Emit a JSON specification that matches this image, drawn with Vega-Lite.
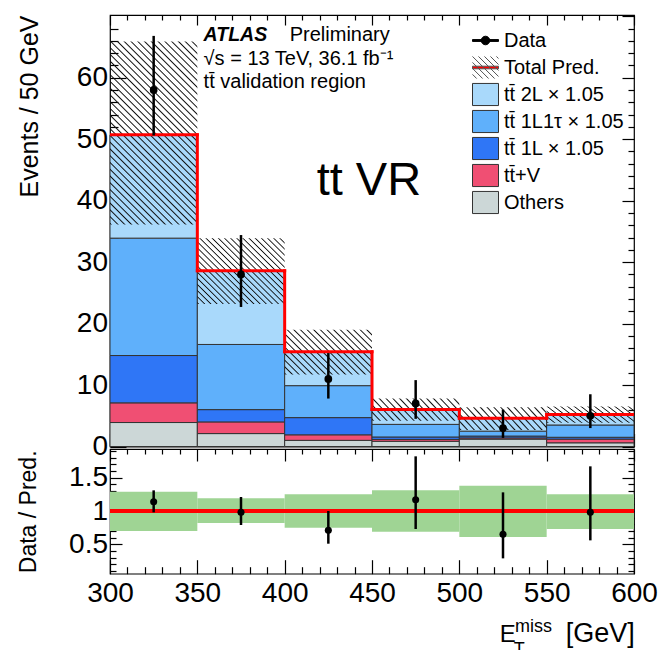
{
  "$schema": "https://vega.github.io/schema/vega-lite/v6.json",
  "background": "white",
  "padding": {"left": 16, "top": 13, "right": 5, "bottom": 0},
  "spacing": 2,
  "bounds": "flush",
  "config": {
    "font": "Liberation Sans",
    "view": {"stroke": "#000", "strokeWidth": 1.2},
    "axis": {"domain": false, "grid": false, "tickColor": "#000", "tickWidth": 1.2, "labelFont": "Liberation Sans", "labelFontSize": 28, "labelColor": "#000", "labelFlush": false, "labelOverlap": false, "titleFont": "Liberation Sans", "titleFontWeight": "normal", "titleColor": "#000"}
  },
  "datasets": {
    "bins": [
      {"lo": 300, "hi": 350, "x": 325, "total": 50.7, "ulo": 36.1, "uhi": 65.9, "n": 58, "nlo": 50.6, "nhi": 66.8, "r": 1.14, "rlo": 0.98, "rhi": 1.31, "blo": 0.70, "bhi": 1.29},
      {"lo": 350, "hi": 400, "x": 375, "total": 28.6, "ulo": 23.2, "uhi": 33.9, "n": 28, "nlo": 22.7, "nhi": 34.4, "r": 0.98, "rlo": 0.79, "rhi": 1.21, "blo": 0.82, "bhi": 1.19},
      {"lo": 400, "hi": 450, "x": 425, "total": 15.4, "ulo": 11.7, "uhi": 19.0, "n": 11, "nlo": 7.8, "nhi": 15.2, "r": 0.71, "rlo": 0.51, "rhi": 1.0, "blo": 0.75, "bhi": 1.25},
      {"lo": 450, "hi": 500, "x": 475, "total": 6.0, "ulo": 4.2, "uhi": 7.8, "n": 7, "nlo": 4.5, "nhi": 10.8, "r": 1.17, "rlo": 0.73, "rhi": 1.82, "blo": 0.69, "bhi": 1.31},
      {"lo": 500, "hi": 550, "x": 525, "total": 4.6, "ulo": 2.7, "uhi": 6.4, "n": 3, "nlo": 1.4, "nhi": 6.0, "r": 0.65, "rlo": 0.29, "rhi": 1.28, "blo": 0.61, "bhi": 1.38},
      {"lo": 550, "hi": 600, "x": 575, "total": 5.2, "ulo": 3.85, "uhi": 6.5, "n": 5, "nlo": 3.0, "nhi": 8.5, "r": 0.98, "rlo": 0.56, "rhi": 1.67, "blo": 0.73, "bhi": 1.25}
    ],
    "stack": [
      {"lo": 300, "hi": 350, "proc": "Others", "ord": 1, "v": 3.9},
      {"lo": 300, "hi": 350, "proc": "tt\u0304+V", "ord": 2, "v": 3.2},
      {"lo": 300, "hi": 350, "proc": "tt\u0304 1L × 1.05", "ord": 3, "v": 7.7},
      {"lo": 300, "hi": 350, "proc": "tt\u0304 1L1τ × 1.05", "ord": 4, "v": 19.1},
      {"lo": 300, "hi": 350, "proc": "tt\u0304 2L × 1.05", "ord": 5, "v": 16.8},
      {"lo": 350, "hi": 400, "proc": "Others", "ord": 1, "v": 2.1},
      {"lo": 350, "hi": 400, "proc": "tt\u0304+V", "ord": 2, "v": 1.9},
      {"lo": 350, "hi": 400, "proc": "tt\u0304 1L × 1.05", "ord": 3, "v": 2.0},
      {"lo": 350, "hi": 400, "proc": "tt\u0304 1L1τ × 1.05", "ord": 4, "v": 10.6},
      {"lo": 350, "hi": 400, "proc": "tt\u0304 2L × 1.05", "ord": 5, "v": 12.0},
      {"lo": 400, "hi": 450, "proc": "Others", "ord": 1, "v": 1.0},
      {"lo": 400, "hi": 450, "proc": "tt\u0304+V", "ord": 2, "v": 0.9},
      {"lo": 400, "hi": 450, "proc": "tt\u0304 1L × 1.05", "ord": 3, "v": 2.8},
      {"lo": 400, "hi": 450, "proc": "tt\u0304 1L1τ × 1.05", "ord": 4, "v": 5.2},
      {"lo": 400, "hi": 450, "proc": "tt\u0304 2L × 1.05", "ord": 5, "v": 5.5},
      {"lo": 450, "hi": 500, "proc": "Others", "ord": 1, "v": 0.85},
      {"lo": 450, "hi": 500, "proc": "tt\u0304+V", "ord": 2, "v": 0.3},
      {"lo": 450, "hi": 500, "proc": "tt\u0304 1L × 1.05", "ord": 3, "v": 0.4},
      {"lo": 450, "hi": 500, "proc": "tt\u0304 1L1τ × 1.05", "ord": 4, "v": 2.05},
      {"lo": 450, "hi": 500, "proc": "tt\u0304 2L × 1.05", "ord": 5, "v": 2.4},
      {"lo": 500, "hi": 550, "proc": "Others", "ord": 1, "v": 1.2},
      {"lo": 500, "hi": 550, "proc": "tt\u0304+V", "ord": 2, "v": 0.2},
      {"lo": 500, "hi": 550, "proc": "tt\u0304 1L × 1.05", "ord": 3, "v": 0.3},
      {"lo": 500, "hi": 550, "proc": "tt\u0304 1L1τ × 1.05", "ord": 4, "v": 0.8},
      {"lo": 500, "hi": 550, "proc": "tt\u0304 2L × 1.05", "ord": 5, "v": 2.1},
      {"lo": 550, "hi": 600, "proc": "Others", "ord": 1, "v": 0.6},
      {"lo": 550, "hi": 600, "proc": "tt\u0304+V", "ord": 2, "v": 0.6},
      {"lo": 550, "hi": 600, "proc": "tt\u0304 1L × 1.05", "ord": 3, "v": 0.3},
      {"lo": 550, "hi": 600, "proc": "tt\u0304 1L1τ × 1.05", "ord": 4, "v": 2.0},
      {"lo": 550, "hi": 600, "proc": "tt\u0304 2L × 1.05", "ord": 5, "v": 1.7}
    ],
    "leg": [
      {"proc": "Data"},
      {"proc": "Total Pred."},
      {"proc": "tt\u0304 2L × 1.05"},
      {"proc": "tt\u0304 1L1τ × 1.05"},
      {"proc": "tt\u0304 1L × 1.05"},
      {"proc": "tt\u0304+V"},
      {"proc": "Others"}
    ]
  },
  "vconcat": [
    {
      "width": 524,
      "height": 431.5,
      "resolve": {"axis": {"x": "independent", "y": "independent"}},
      "layer": [
        {
          "data": {"name": "stack"},
          "transform": [{"stack": "v", "groupby": ["lo"], "sort": [{"field": "ord", "order": "ascending"}], "as": ["y0", "y1"]}],
          "mark": {"type": "rect", "stroke": "#333", "strokeWidth": 1},
          "encoding": {
            "x": {"field": "lo", "type": "quantitative", "scale": {"domain": [300, 600], "nice": false, "zero": false}, "axis": {"orient": "bottom", "values": [300, 350, 400, 450, 500, 550, 600], "tickSize": -13, "labels": false, "title": null}},
            "x2": {"field": "hi"},
            "y": {"field": "y0", "type": "quantitative", "scale": {"domain": [0, 70.2], "nice": false, "zero": false}, "axis": {"orient": "left", "values": [0, 10, 20, 30, 40, 50, 60], "tickSize": -16, "labelPadding": 18.5, "title": "Events / 50 GeV", "titleFontSize": 25, "titleAnchor": "end", "titleX": -81, "titleBaseline": "middle"}},
            "y2": {"field": "y1"},
            "fill": {"field": "proc", "type": "nominal", "scale": {"domain": ["Data", "Total Pred.", "tt\u0304 2L × 1.05", "tt\u0304 1L1τ × 1.05", "tt\u0304 1L × 1.05", "tt\u0304+V", "Others"], "range": ["#000000", "#ff0000", "#a9d9fb", "#5fb0fb", "#2f76f6", "#f04f73", "#ccd7d7"]}, "legend": {"title": null, "orient": "none", "legendX": 362, "legendY": 12, "padding": 0, "labelFont": "Liberation Sans", "labelFontSize": 20, "labelColor": "#000", "symbolSize": 676, "symbolStrokeWidth": 1, "rowPadding": -3.3, "labelOffset": 5, "symbolOpacity": 1}}
          }
        },
        {
          "data": {"name": "bins"},
          "mark": {"type": "rect"},
          "encoding": {
            "x": {"field": "lo", "type": "quantitative", "scale": {"domain": [300, 600], "nice": false, "zero": false}, "axis": {"orient": "bottom", "values": [310, 320, 330, 340, 360, 370, 380, 390, 410, 420, 430, 440, 460, 470, 480, 490, 510, 520, 530, 540, 560, 570, 580, 590], "tickSize": -6.5, "labels": false, "title": null}},
            "x2": {"field": "hi"},
            "y": {"field": "ulo", "type": "quantitative", "scale": {"domain": [0, 70.2], "nice": false, "zero": false}, "axis": {"orient": "left", "values": [2, 4, 6, 8, 12, 14, 16, 18, 22, 24, 26, 28, 32, 34, 36, 38, 42, 44, 46, 48, 52, 54, 56, 58, 62, 64, 66, 68], "tickSize": -8, "labels": false, "title": null}},
            "y2": {"field": "uhi"},
            "fill": {
              "condition": [
                {"test": "datum.lo == 300", "value": {"gradient": "linear", "x1": 0.2135, "y1": 1.102, "x2": 0.7865, "y2": -0.102, "stops": [
                  {"offset": 0, "color": "transparent"}, {"offset": 0.005, "color": "#111"}, {"offset": 0.01, "color": "transparent"},
                  {"offset": 0.025, "color": "transparent"}, {"offset": 0.03, "color": "#111"}, {"offset": 0.035, "color": "transparent"},
                  {"offset": 0.05, "color": "transparent"}, {"offset": 0.055, "color": "#111"}, {"offset": 0.06, "color": "transparent"},
                  {"offset": 0.075, "color": "transparent"}, {"offset": 0.08, "color": "#111"}, {"offset": 0.085, "color": "transparent"},
                  {"offset": 0.1, "color": "transparent"}, {"offset": 0.105, "color": "#111"}, {"offset": 0.11, "color": "transparent"},
                  {"offset": 0.125, "color": "transparent"}, {"offset": 0.13, "color": "#111"}, {"offset": 0.135, "color": "transparent"},
                  {"offset": 0.15, "color": "transparent"}, {"offset": 0.155, "color": "#111"}, {"offset": 0.16, "color": "transparent"},
                  {"offset": 0.175, "color": "transparent"}, {"offset": 0.18, "color": "#111"}, {"offset": 0.185, "color": "transparent"},
                  {"offset": 0.2, "color": "transparent"}, {"offset": 0.205, "color": "#111"}, {"offset": 0.21, "color": "transparent"},
                  {"offset": 0.225, "color": "transparent"}, {"offset": 0.23, "color": "#111"}, {"offset": 0.235, "color": "transparent"},
                  {"offset": 0.25, "color": "transparent"}, {"offset": 0.255, "color": "#111"}, {"offset": 0.26, "color": "transparent"},
                  {"offset": 0.275, "color": "transparent"}, {"offset": 0.28, "color": "#111"}, {"offset": 0.285, "color": "transparent"},
                  {"offset": 0.3, "color": "transparent"}, {"offset": 0.305, "color": "#111"}, {"offset": 0.31, "color": "transparent"},
                  {"offset": 0.325, "color": "transparent"}, {"offset": 0.33, "color": "#111"}, {"offset": 0.335, "color": "transparent"},
                  {"offset": 0.35, "color": "transparent"}, {"offset": 0.355, "color": "#111"}, {"offset": 0.36, "color": "transparent"},
                  {"offset": 0.375, "color": "transparent"}, {"offset": 0.38, "color": "#111"}, {"offset": 0.385, "color": "transparent"},
                  {"offset": 0.4, "color": "transparent"}, {"offset": 0.405, "color": "#111"}, {"offset": 0.41, "color": "transparent"},
                  {"offset": 0.425, "color": "transparent"}, {"offset": 0.43, "color": "#111"}, {"offset": 0.435, "color": "transparent"},
                  {"offset": 0.45, "color": "transparent"}, {"offset": 0.455, "color": "#111"}, {"offset": 0.46, "color": "transparent"},
                  {"offset": 0.475, "color": "transparent"}, {"offset": 0.48, "color": "#111"}, {"offset": 0.485, "color": "transparent"},
                  {"offset": 0.5, "color": "transparent"}, {"offset": 0.505, "color": "#111"}, {"offset": 0.51, "color": "transparent"},
                  {"offset": 0.525, "color": "transparent"}, {"offset": 0.53, "color": "#111"}, {"offset": 0.535, "color": "transparent"},
                  {"offset": 0.55, "color": "transparent"}, {"offset": 0.555, "color": "#111"}, {"offset": 0.56, "color": "transparent"},
                  {"offset": 0.575, "color": "transparent"}, {"offset": 0.58, "color": "#111"}, {"offset": 0.585, "color": "transparent"},
                  {"offset": 0.6, "color": "transparent"}, {"offset": 0.605, "color": "#111"}, {"offset": 0.61, "color": "transparent"},
                  {"offset": 0.625, "color": "transparent"}, {"offset": 0.63, "color": "#111"}, {"offset": 0.635, "color": "transparent"},
                  {"offset": 0.65, "color": "transparent"}, {"offset": 0.655, "color": "#111"}, {"offset": 0.66, "color": "transparent"},
                  {"offset": 0.675, "color": "transparent"}, {"offset": 0.68, "color": "#111"}, {"offset": 0.685, "color": "transparent"},
                  {"offset": 0.7, "color": "transparent"}, {"offset": 0.705, "color": "#111"}, {"offset": 0.71, "color": "transparent"},
                  {"offset": 0.725, "color": "transparent"}, {"offset": 0.73, "color": "#111"}, {"offset": 0.735, "color": "transparent"},
                  {"offset": 0.75, "color": "transparent"}, {"offset": 0.755, "color": "#111"}, {"offset": 0.76, "color": "transparent"},
                  {"offset": 0.775, "color": "transparent"}, {"offset": 0.78, "color": "#111"}, {"offset": 0.785, "color": "transparent"},
                  {"offset": 0.8, "color": "transparent"}, {"offset": 0.805, "color": "#111"}, {"offset": 0.81, "color": "transparent"},
                  {"offset": 0.825, "color": "transparent"}, {"offset": 0.83, "color": "#111"}, {"offset": 0.835, "color": "transparent"},
                  {"offset": 0.85, "color": "transparent"}, {"offset": 0.855, "color": "#111"}, {"offset": 0.86, "color": "transparent"},
                  {"offset": 0.875, "color": "transparent"}, {"offset": 0.88, "color": "#111"}, {"offset": 0.885, "color": "transparent"},
                  {"offset": 0.9, "color": "transparent"}, {"offset": 0.905, "color": "#111"}, {"offset": 0.91, "color": "transparent"},
                  {"offset": 0.925, "color": "transparent"}, {"offset": 0.93, "color": "#111"}, {"offset": 0.935, "color": "transparent"},
                  {"offset": 0.95, "color": "transparent"}, {"offset": 0.955, "color": "#111"}, {"offset": 0.96, "color": "transparent"},
                  {"offset": 0.975, "color": "transparent"}, {"offset": 0.98, "color": "#111"}, {"offset": 0.985, "color": "transparent"}
                ]}},
                {"test": "datum.lo == 350", "value": {"gradient": "linear", "x1": -0.058, "y1": 0.924, "x2": 1.058, "y2": 0.076, "stops": [
                  {"offset": 0, "color": "transparent"}, {"offset": 0.008, "color": "#111"}, {"offset": 0.016, "color": "transparent"},
                  {"offset": 0.04, "color": "transparent"}, {"offset": 0.048, "color": "#111"}, {"offset": 0.056, "color": "transparent"},
                  {"offset": 0.08, "color": "transparent"}, {"offset": 0.088, "color": "#111"}, {"offset": 0.096, "color": "transparent"},
                  {"offset": 0.12, "color": "transparent"}, {"offset": 0.128, "color": "#111"}, {"offset": 0.136, "color": "transparent"},
                  {"offset": 0.16, "color": "transparent"}, {"offset": 0.168, "color": "#111"}, {"offset": 0.176, "color": "transparent"},
                  {"offset": 0.2, "color": "transparent"}, {"offset": 0.208, "color": "#111"}, {"offset": 0.216, "color": "transparent"},
                  {"offset": 0.24, "color": "transparent"}, {"offset": 0.248, "color": "#111"}, {"offset": 0.256, "color": "transparent"},
                  {"offset": 0.28, "color": "transparent"}, {"offset": 0.288, "color": "#111"}, {"offset": 0.296, "color": "transparent"},
                  {"offset": 0.32, "color": "transparent"}, {"offset": 0.328, "color": "#111"}, {"offset": 0.336, "color": "transparent"},
                  {"offset": 0.36, "color": "transparent"}, {"offset": 0.368, "color": "#111"}, {"offset": 0.376, "color": "transparent"},
                  {"offset": 0.4, "color": "transparent"}, {"offset": 0.408, "color": "#111"}, {"offset": 0.416, "color": "transparent"},
                  {"offset": 0.44, "color": "transparent"}, {"offset": 0.448, "color": "#111"}, {"offset": 0.456, "color": "transparent"},
                  {"offset": 0.48, "color": "transparent"}, {"offset": 0.488, "color": "#111"}, {"offset": 0.496, "color": "transparent"},
                  {"offset": 0.52, "color": "transparent"}, {"offset": 0.528, "color": "#111"}, {"offset": 0.536, "color": "transparent"},
                  {"offset": 0.56, "color": "transparent"}, {"offset": 0.568, "color": "#111"}, {"offset": 0.576, "color": "transparent"},
                  {"offset": 0.6, "color": "transparent"}, {"offset": 0.608, "color": "#111"}, {"offset": 0.616, "color": "transparent"},
                  {"offset": 0.64, "color": "transparent"}, {"offset": 0.648, "color": "#111"}, {"offset": 0.656, "color": "transparent"},
                  {"offset": 0.68, "color": "transparent"}, {"offset": 0.688, "color": "#111"}, {"offset": 0.696, "color": "transparent"},
                  {"offset": 0.72, "color": "transparent"}, {"offset": 0.728, "color": "#111"}, {"offset": 0.736, "color": "transparent"},
                  {"offset": 0.76, "color": "transparent"}, {"offset": 0.768, "color": "#111"}, {"offset": 0.776, "color": "transparent"},
                  {"offset": 0.8, "color": "transparent"}, {"offset": 0.808, "color": "#111"}, {"offset": 0.816, "color": "transparent"},
                  {"offset": 0.84, "color": "transparent"}, {"offset": 0.848, "color": "#111"}, {"offset": 0.856, "color": "transparent"},
                  {"offset": 0.88, "color": "transparent"}, {"offset": 0.888, "color": "#111"}, {"offset": 0.896, "color": "transparent"},
                  {"offset": 0.92, "color": "transparent"}, {"offset": 0.928, "color": "#111"}, {"offset": 0.936, "color": "transparent"},
                  {"offset": 0.96, "color": "transparent"}, {"offset": 0.968, "color": "#111"}, {"offset": 0.976, "color": "transparent"}
                ]}},
                {"test": "datum.lo == 400", "value": {"gradient": "linear", "x1": -0.099, "y1": 0.81, "x2": 1.099, "y2": 0.19, "stops": [
                  {"offset": 0, "color": "transparent"}, {"offset": 0.01, "color": "#111"}, {"offset": 0.02, "color": "transparent"},
                  {"offset": 0.05, "color": "transparent"}, {"offset": 0.06, "color": "#111"}, {"offset": 0.07, "color": "transparent"},
                  {"offset": 0.1, "color": "transparent"}, {"offset": 0.11, "color": "#111"}, {"offset": 0.12, "color": "transparent"},
                  {"offset": 0.15, "color": "transparent"}, {"offset": 0.16, "color": "#111"}, {"offset": 0.17, "color": "transparent"},
                  {"offset": 0.2, "color": "transparent"}, {"offset": 0.21, "color": "#111"}, {"offset": 0.22, "color": "transparent"},
                  {"offset": 0.25, "color": "transparent"}, {"offset": 0.26, "color": "#111"}, {"offset": 0.27, "color": "transparent"},
                  {"offset": 0.3, "color": "transparent"}, {"offset": 0.31, "color": "#111"}, {"offset": 0.32, "color": "transparent"},
                  {"offset": 0.35, "color": "transparent"}, {"offset": 0.36, "color": "#111"}, {"offset": 0.37, "color": "transparent"},
                  {"offset": 0.4, "color": "transparent"}, {"offset": 0.41, "color": "#111"}, {"offset": 0.42, "color": "transparent"},
                  {"offset": 0.45, "color": "transparent"}, {"offset": 0.46, "color": "#111"}, {"offset": 0.47, "color": "transparent"},
                  {"offset": 0.5, "color": "transparent"}, {"offset": 0.51, "color": "#111"}, {"offset": 0.52, "color": "transparent"},
                  {"offset": 0.55, "color": "transparent"}, {"offset": 0.56, "color": "#111"}, {"offset": 0.57, "color": "transparent"},
                  {"offset": 0.6, "color": "transparent"}, {"offset": 0.61, "color": "#111"}, {"offset": 0.62, "color": "transparent"},
                  {"offset": 0.65, "color": "transparent"}, {"offset": 0.66, "color": "#111"}, {"offset": 0.67, "color": "transparent"},
                  {"offset": 0.7, "color": "transparent"}, {"offset": 0.71, "color": "#111"}, {"offset": 0.72, "color": "transparent"},
                  {"offset": 0.75, "color": "transparent"}, {"offset": 0.76, "color": "#111"}, {"offset": 0.77, "color": "transparent"},
                  {"offset": 0.8, "color": "transparent"}, {"offset": 0.81, "color": "#111"}, {"offset": 0.82, "color": "transparent"},
                  {"offset": 0.85, "color": "transparent"}, {"offset": 0.86, "color": "#111"}, {"offset": 0.87, "color": "transparent"},
                  {"offset": 0.9, "color": "transparent"}, {"offset": 0.91, "color": "#111"}, {"offset": 0.92, "color": "transparent"},
                  {"offset": 0.95, "color": "transparent"}, {"offset": 0.96, "color": "#111"}, {"offset": 0.97, "color": "transparent"}
                ]}}
              ],
              "value": {"gradient": "linear", "x1": -0.086, "y1": 0.641, "x2": 1.086, "y2": 0.359, "stops": [
                {"offset": 0, "color": "transparent"}, {"offset": 0.0125, "color": "#111"}, {"offset": 0.025, "color": "transparent"},
                {"offset": 0.0625, "color": "transparent"}, {"offset": 0.075, "color": "#111"}, {"offset": 0.0875, "color": "transparent"},
                {"offset": 0.125, "color": "transparent"}, {"offset": 0.1375, "color": "#111"}, {"offset": 0.15, "color": "transparent"},
                {"offset": 0.1875, "color": "transparent"}, {"offset": 0.2, "color": "#111"}, {"offset": 0.2125, "color": "transparent"},
                {"offset": 0.25, "color": "transparent"}, {"offset": 0.2625, "color": "#111"}, {"offset": 0.275, "color": "transparent"},
                {"offset": 0.3125, "color": "transparent"}, {"offset": 0.325, "color": "#111"}, {"offset": 0.3375, "color": "transparent"},
                {"offset": 0.375, "color": "transparent"}, {"offset": 0.3875, "color": "#111"}, {"offset": 0.4, "color": "transparent"},
                {"offset": 0.4375, "color": "transparent"}, {"offset": 0.45, "color": "#111"}, {"offset": 0.4625, "color": "transparent"},
                {"offset": 0.5, "color": "transparent"}, {"offset": 0.5125, "color": "#111"}, {"offset": 0.525, "color": "transparent"},
                {"offset": 0.5625, "color": "transparent"}, {"offset": 0.575, "color": "#111"}, {"offset": 0.5875, "color": "transparent"},
                {"offset": 0.625, "color": "transparent"}, {"offset": 0.6375, "color": "#111"}, {"offset": 0.65, "color": "transparent"},
                {"offset": 0.6875, "color": "transparent"}, {"offset": 0.7, "color": "#111"}, {"offset": 0.7125, "color": "transparent"},
                {"offset": 0.75, "color": "transparent"}, {"offset": 0.7625, "color": "#111"}, {"offset": 0.775, "color": "transparent"},
                {"offset": 0.8125, "color": "transparent"}, {"offset": 0.825, "color": "#111"}, {"offset": 0.8375, "color": "transparent"},
                {"offset": 0.875, "color": "transparent"}, {"offset": 0.8875, "color": "#111"}, {"offset": 0.9, "color": "transparent"},
                {"offset": 0.9375, "color": "transparent"}, {"offset": 0.95, "color": "#111"}, {"offset": 0.9625, "color": "transparent"}
              ]}
            }
          }
        },
        {
          "data": {"name": "bins"},
          "mark": {"type": "rule", "color": "#ff0000", "strokeWidth": 3, "strokeCap": "square", "clip": true},
          "encoding": {
            "x": {"field": "lo", "type": "quantitative", "scale": {"domain": [300, 600], "nice": false, "zero": false}, "axis": {"orient": "top", "values": [300, 350, 400, 450, 500, 550, 600], "tickSize": -10, "labels": false, "title": null}},
            "x2": {"field": "hi"},
            "y": {"field": "total", "type": "quantitative", "scale": {"domain": [0, 70.2], "nice": false, "zero": false}, "axis": {"orient": "right", "values": [0, 10, 20, 30, 40, 50, 60, 70], "tickSize": -12, "labels": false, "title": null}}
          }
        },
        {
          "data": {"name": "bins"},
          "transform": [
            {"window": [{"op": "lead", "field": "total", "as": "next"}], "sort": [{"field": "lo", "order": "ascending"}]},
            {"filter": "datum.next != null"}
          ],
          "mark": {"type": "rule", "color": "#ff0000", "strokeWidth": 3, "strokeCap": "square", "clip": true},
          "encoding": {
            "x": {"field": "hi", "type": "quantitative", "scale": {"domain": [300, 600], "nice": false, "zero": false}, "axis": {"orient": "top", "values": [310, 320, 330, 340, 360, 370, 380, 390, 410, 420, 430, 440, 460, 470, 480, 490, 510, 520, 530, 540, 560, 570, 580, 590], "tickSize": -5, "labels": false, "title": null}},
            "y": {"field": "total", "type": "quantitative", "scale": {"domain": [0, 70.2], "nice": false, "zero": false}, "axis": {"orient": "right", "values": [2, 4, 6, 8, 12, 14, 16, 18, 22, 24, 26, 28, 32, 34, 36, 38, 42, 44, 46, 48, 52, 54, 56, 58, 62, 64, 66, 68], "tickSize": -6, "labels": false, "title": null}},
            "y2": {"field": "next"}
          }
        },
        {
          "data": {"name": "bins"},
          "mark": {"type": "rule", "color": "#000", "strokeWidth": 2.5},
          "encoding": {
            "x": {"field": "x", "type": "quantitative", "scale": {"domain": [300, 600], "nice": false, "zero": false}, "axis": null},
            "y": {"field": "nlo", "type": "quantitative", "scale": {"domain": [0, 70.2], "nice": false, "zero": false}, "axis": null},
            "y2": {"field": "nhi"}
          }
        },
        {
          "data": {"name": "bins"},
          "mark": {"type": "point", "filled": true, "color": "#000", "size": 60, "opacity": 1},
          "encoding": {
            "x": {"field": "x", "type": "quantitative", "scale": {"domain": [300, 600], "nice": false, "zero": false}, "axis": null},
            "y": {"field": "n", "type": "quantitative", "scale": {"domain": [0, 70.2], "nice": false, "zero": false}, "axis": null}
          }
        },
        {
          "data": {"name": "leg"},
          "mark": {"type": "point", "filled": true, "opacity": 0},
          "encoding": {
            "fill": {"field": "proc", "type": "nominal", "scale": {"domain": ["Data", "Total Pred.", "tt\u0304 2L × 1.05", "tt\u0304 1L1τ × 1.05", "tt\u0304 1L × 1.05", "tt\u0304+V", "Others"], "range": ["#000000", "#ff0000", "#a9d9fb", "#5fb0fb", "#2f76f6", "#f04f73", "#ccd7d7"]}, "legend": {"title": null, "orient": "none", "legendX": 362, "legendY": 12, "padding": 0, "labelFont": "Liberation Sans", "labelFontSize": 20, "labelColor": "#000", "symbolSize": 676, "symbolStrokeWidth": 1, "rowPadding": -3.3, "labelOffset": 5, "symbolOpacity": 1}},
            "stroke": {"field": "proc", "type": "nominal", "scale": {"domain": ["Data", "Total Pred.", "tt\u0304 2L × 1.05", "tt\u0304 1L1τ × 1.05", "tt\u0304 1L × 1.05", "tt\u0304+V", "Others"], "range": ["#000000", "#555555", "#333333", "#333333", "#333333", "#333333", "#333333"]}, "legend": {"title": null, "orient": "none", "legendX": 362, "legendY": 12, "padding": 0, "labelFont": "Liberation Sans", "labelFontSize": 20, "labelColor": "#000", "symbolSize": 676, "symbolStrokeWidth": 1, "rowPadding": -3.3, "labelOffset": 5, "symbolOpacity": 1}},
            "shape": {"field": "proc", "type": "nominal", "scale": {"domain": ["Data", "Total Pred.", "tt\u0304 2L × 1.05", "tt\u0304 1L1τ × 1.05", "tt\u0304 1L × 1.05", "tt\u0304+V", "Others"], "range": ["M-1,-0.85L-1,-0.85M-1,0.85L-1,0.85M-1,-0.07H1V0.07H-1ZM0.33,0A0.33,0.33,0,1,1,-0.33,0A0.33,0.33,0,1,1,0.33,0Z", "M-1,0.53L-0.68,0.85M-1,0.07L-0.22,0.85M-1,-0.39L0.24,0.85M-1,-0.85L0.7,0.85M-0.54,-0.85L1,0.69M-0.08,-0.85L1,0.23M0.38,-0.85L1,-0.23M0.84,-0.85L1,-0.69M-1,-0.1H1V0.1H-1Z", "M-1,-0.85H1V0.85H-1Z", "M-1,-0.85H1V0.85H-1Z", "M-1,-0.85H1V0.85H-1Z", "M-1,-0.85H1V0.85H-1Z", "M-1,-0.85H1V0.85H-1Z"]}, "legend": {"title": null, "orient": "none", "legendX": 362, "legendY": 12, "padding": 0, "labelFont": "Liberation Sans", "labelFontSize": 20, "labelColor": "#000", "symbolSize": 676, "symbolStrokeWidth": 1, "rowPadding": -3.3, "labelOffset": 5, "symbolOpacity": 1}}
          }
        },
        {
          "data": {"values": [{}]},
          "mark": {"type": "text", "text": "ATLAS", "font": "Liberation Sans", "fontSize": 19.5, "fontWeight": "bold", "fontStyle": "italic", "align": "left", "baseline": "alphabetic", "color": "#000"},
          "encoding": {
            "x": {"datum": 353.6, "type": "quantitative", "scale": {"domain": [300, 600], "nice": false, "zero": false}, "axis": null},
            "y": {"datum": 65.9, "type": "quantitative", "scale": {"domain": [0, 70.2], "nice": false, "zero": false}, "axis": null}
          }
        },
        {
          "data": {"values": [{}]},
          "mark": {"type": "text", "text": "Preliminary", "font": "Liberation Sans", "fontSize": 20, "align": "left", "baseline": "alphabetic", "color": "#000"},
          "encoding": {
            "x": {"datum": 402.9, "type": "quantitative", "scale": {"domain": [300, 600], "nice": false, "zero": false}, "axis": null},
            "y": {"datum": 65.9, "type": "quantitative", "scale": {"domain": [0, 70.2], "nice": false, "zero": false}, "axis": null}
          }
        },
        {
          "data": {"values": [{}]},
          "mark": {"type": "text", "text": "√s = 13 TeV, 36.1 fb⁻¹", "font": "Liberation Sans", "fontSize": 20, "align": "left", "baseline": "alphabetic", "color": "#000"},
          "encoding": {
            "x": {"datum": 353.6, "type": "quantitative", "scale": {"domain": [300, 600], "nice": false, "zero": false}, "axis": null},
            "y": {"datum": 62.0, "type": "quantitative", "scale": {"domain": [0, 70.2], "nice": false, "zero": false}, "axis": null}
          }
        },
        {
          "data": {"values": [{}]},
          "mark": {"type": "text", "text": "tt\u0304 validation region", "font": "Liberation Sans", "fontSize": 20, "align": "left", "baseline": "alphabetic", "color": "#000"},
          "encoding": {
            "x": {"datum": 353.6, "type": "quantitative", "scale": {"domain": [300, 600], "nice": false, "zero": false}, "axis": null},
            "y": {"datum": 58.3, "type": "quantitative", "scale": {"domain": [0, 70.2], "nice": false, "zero": false}, "axis": null}
          }
        },
        {
          "data": {"values": [{}]},
          "mark": {"type": "text", "text": "tt VR", "font": "Liberation Sans", "fontSize": 47, "align": "left", "baseline": "alphabetic", "color": "#000"},
          "encoding": {
            "x": {"datum": 418.3, "type": "quantitative", "scale": {"domain": [300, 600], "nice": false, "zero": false}, "axis": null},
            "y": {"datum": 40.85, "type": "quantitative", "scale": {"domain": [0, 70.2], "nice": false, "zero": false}, "axis": null}
          }
        }
      ]
    },
    {
      "width": 524,
      "height": 124.7,
      "resolve": {"axis": {"x": "independent", "y": "independent"}},
      "layer": [
        {
          "data": {"name": "bins"},
          "mark": {"type": "rect", "color": "#9fd494"},
          "encoding": {
            "x": {"field": "lo", "type": "quantitative", "scale": {"domain": [300, 600], "nice": false, "zero": false}, "axis": {"orient": "bottom", "values": [300, 350, 400, 450, 500, 550, 600], "tickSize": -14, "labelPadding": 19.5, "title": null}},
            "x2": {"field": "hi"},
            "y": {"field": "blo", "type": "quantitative", "scale": {"domain": [0.06, 1.93], "nice": false, "zero": false}, "axis": {"orient": "left", "values": [0.5, 1, 1.5], "format": "~g", "tickSize": -12, "labelPadding": 14.5, "title": "Data / Pred.", "titleFontSize": 23, "titleX": -82, "titleBaseline": "middle"}},
            "y2": {"field": "bhi"}
          }
        },
        {
          "data": {"values": [{}]},
          "mark": {"type": "rule", "color": "#ff0000", "strokeWidth": 4},
          "encoding": {
            "y": {"datum": 1, "type": "quantitative", "scale": {"domain": [0.06, 1.93], "nice": false, "zero": false}, "axis": null}
          }
        },
        {
          "data": {"name": "bins"},
          "mark": {"type": "rule", "color": "#000", "strokeWidth": 2.5},
          "encoding": {
            "x": {"field": "x", "type": "quantitative", "scale": {"domain": [300, 600], "nice": false, "zero": false}, "axis": {"orient": "bottom", "values": [310, 320, 330, 340, 360, 370, 380, 390, 410, 420, 430, 440, 460, 470, 480, 490, 510, 520, 530, 540, 560, 570, 580, 590], "tickSize": -7, "labels": false, "title": null}},
            "y": {"field": "rlo", "type": "quantitative", "scale": {"domain": [0.06, 1.93], "nice": false, "zero": false}, "axis": {"orient": "left", "values": [0.1, 0.2, 0.3, 0.4, 0.6, 0.7, 0.8, 0.9, 1.1, 1.2, 1.3, 1.4, 1.6, 1.7, 1.8, 1.9], "tickSize": -6, "labels": false, "title": null}},
            "y2": {"field": "rhi"}
          }
        },
        {
          "data": {"name": "bins"},
          "mark": {"type": "point", "filled": true, "color": "#000", "size": 50, "opacity": 1},
          "encoding": {
            "x": {"field": "x", "type": "quantitative", "scale": {"domain": [300, 600], "nice": false, "zero": false}, "axis": {"orient": "top", "values": [300, 350, 400, 450, 500, 550, 600], "tickSize": -12, "labels": false, "title": null}},
            "y": {"field": "r", "type": "quantitative", "scale": {"domain": [0.06, 1.93], "nice": false, "zero": false}, "axis": {"orient": "right", "values": [0.5, 1, 1.5], "tickSize": -12, "labels": false, "title": null}}
          }
        },
        {
          "data": {"values": [{}]},
          "mark": {"type": "text", "text": "E", "font": "Liberation Sans", "fontSize": 24, "align": "left", "baseline": "alphabetic", "color": "#000"},
          "encoding": {
            "x": {"datum": 523.1, "type": "quantitative", "scale": {"domain": [300, 600], "nice": false, "zero": false}, "axis": {"orient": "top", "values": [310, 320, 330, 340, 360, 370, 380, 390, 410, 420, 430, 440, 460, 470, 480, 490, 510, 520, 530, 540, 560, 570, 580, 590], "tickSize": -5, "labels": false, "title": null}},
            "y": {"datum": -0.957, "type": "quantitative", "scale": {"domain": [0.06, 1.93], "nice": false, "zero": false}, "axis": {"orient": "right", "values": [0.1, 0.2, 0.3, 0.4, 0.6, 0.7, 0.8, 0.9, 1.1, 1.2, 1.3, 1.4, 1.6, 1.7, 1.8, 1.9], "tickSize": -6, "labels": false, "title": null}}
          }
        },
        {
          "data": {"values": [{}]},
          "mark": {"type": "text", "text": "miss", "font": "Liberation Sans", "fontSize": 18, "align": "left", "baseline": "alphabetic", "color": "#000"},
          "encoding": {
            "x": {"datum": 531.9, "type": "quantitative", "scale": {"domain": [300, 600], "nice": false, "zero": false}, "axis": null},
            "y": {"datum": -0.807, "type": "quantitative", "scale": {"domain": [0.06, 1.93], "nice": false, "zero": false}, "axis": null}
          }
        },
        {
          "data": {"values": [{}]},
          "mark": {"type": "text", "text": "T", "font": "Liberation Sans", "fontSize": 18, "align": "left", "baseline": "alphabetic", "color": "#000"},
          "encoding": {
            "x": {"datum": 531.1, "type": "quantitative", "scale": {"domain": [300, 600], "nice": false, "zero": false}, "axis": null},
            "y": {"datum": -1.16, "type": "quantitative", "scale": {"domain": [0.06, 1.93], "nice": false, "zero": false}, "axis": null}
          }
        },
        {
          "data": {"values": [{}]},
          "mark": {"type": "text", "text": "[GeV]", "font": "Liberation Sans", "fontSize": 27, "align": "right", "baseline": "alphabetic", "color": "#000"},
          "encoding": {
            "x": {"datum": 600.5, "type": "quantitative", "scale": {"domain": [300, 600], "nice": false, "zero": false}, "axis": null},
            "y": {"datum": -0.957, "type": "quantitative", "scale": {"domain": [0.06, 1.93], "nice": false, "zero": false}, "axis": null}
          }
        }
      ]
    }
  ]
}
